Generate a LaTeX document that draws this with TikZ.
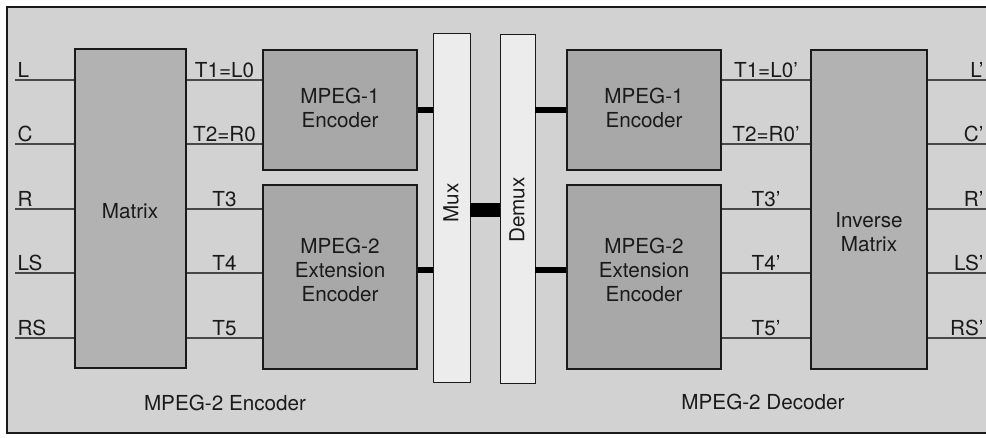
\documentclass[tikz,border=0pt]{standalone}
\usepackage{fontspec}
\setmainfont{TeX Gyre Heros}
\usepackage{tikz}
\usetikzlibrary{fit, positioning}
\definecolor{paperbg}{HTML}{D2D2D2}
\definecolor{blockgray}{HTML}{A8A8A8}
\definecolor{matrixgray}{HTML}{B2B2B2}
\definecolor{muxgray}{HTML}{ECECEC}
\definecolor{inkdark}{HTML}{1A1A1A}

\begin{document}
\begin{tikzpicture}[
  x=0.75pt, y=-0.75pt,
  every node/.style={font=\fontsize{15.5}{18}\selectfont, text=inkdark},
  frame/.style={draw=inkdark, fill=paperbg, line width=1.5pt},
  blk/.style={draw=inkdark, fill=blockgray, line width=2.2pt, inner sep=0pt},
  mtxblk/.style={blk, fill=matrixgray},
  muxblk/.style={draw=inkdark, fill=muxgray, line width=0.6pt, inner sep=0pt},
  sig/.style={draw=inkdark!80, line width=0.8pt},
  tag/.style={inner sep=1.5pt},
  bus/.style={draw=black, line width=5.2pt},
  txt/.style={align=center}
]
\useasboundingbox (0,0) rectangle (986,437);

% ---- frame ----
\draw[frame] (7,7) rectangle (996,433);

% ---- encoder side ----
\node[mtxblk, fit={(75,49) (186,368)}] (mtx) {};
\node[blk, fit={(263,50) (417,170)}] (enc1) {};
\node[blk, fit={(263,185) (417,369)}] (enc2) {};
\node[txt] at (130,211) {Matrix};
\node[txt] at (340,108) {MPEG-1\\Encoder};
\node[txt] at (340,270) {MPEG-2\\Extension\\Encoder};

% ---- mux / demux ----
\node[muxblk, fit={(433,33) (470,382)}] (mux) {};
\node[muxblk, fit={(500,34) (535,383)}] (demux) {};
\node[rotate=90] at (451,203) {Mux};
\node[rotate=90] at (517,210) {Demux};

% ---- decoder side ----
\node[blk, fit={(567,50) (721,170)}] (dec1) {};
\node[blk, fit={(567,185) (721,369)}] (dec2) {};
\node[mtxblk, fit={(811,50) (927,369)}] (inv) {};
\node[txt] at (644,108) {MPEG-1\\Encoder};
\node[txt] at (644,270) {MPEG-2\\Extension\\Encoder};
\node[txt] at (869,232) {Inverse\\Matrix};

% ---- bitstream stubs ----
\draw[bus] (enc1.east) -- (mux.west |- enc1.east);
\draw[bus] (enc2.east |- 0,270) -- (mux.west |- 0,270);
\draw[bus] (demux.east |- dec1.west) -- (dec1.west);
\draw[bus] (demux.east |- 0,270) -- (dec2.west |- 0,270);
\draw[bus, line width=9.8pt] (mux.east |- 0,210) -- (demux.west |- 0,210);

% ---- channel lines ----
\foreach \y/\inl/\tl/\e/\d/\tr/\outl in {
  80/L/T1=L0/enc1/dec1/T1=L0'/L',
  144/C/T2=R0/enc1/dec1/T2=R0'/C',
  209/R/T3/enc2/dec2/T3'/R',
  273/LS/T4/enc2/dec2/T4'/LS',
  338/RS/T5/enc2/dec2/T5'/RS'}{
  \coordinate (in\inl) at (15,\y);
  \coordinate (out\inl) at (986,\y);
  \draw[sig] (in\inl) -- (in\inl -| mtx.west) node[tag, pos=0, above right] {\inl};
  \draw[sig] (mtx.east |- in\inl) -- (\e.west |- in\inl) node[tag, midway, above] {\tl};
  \draw[sig] (\d.east |- in\inl) -- (inv.west |- in\inl) node[tag, midway, above] {\tr};
  \draw[sig] (inv.east |- in\inl) -- (out\inl) node[tag, pos=1, above left] {\outl};
}

% ---- captions ----
\node (enccap) at (225,403) {MPEG-2 Encoder};
\node (deccap) at (763,402) {MPEG-2 Decoder};
\end{tikzpicture}
\end{document}
